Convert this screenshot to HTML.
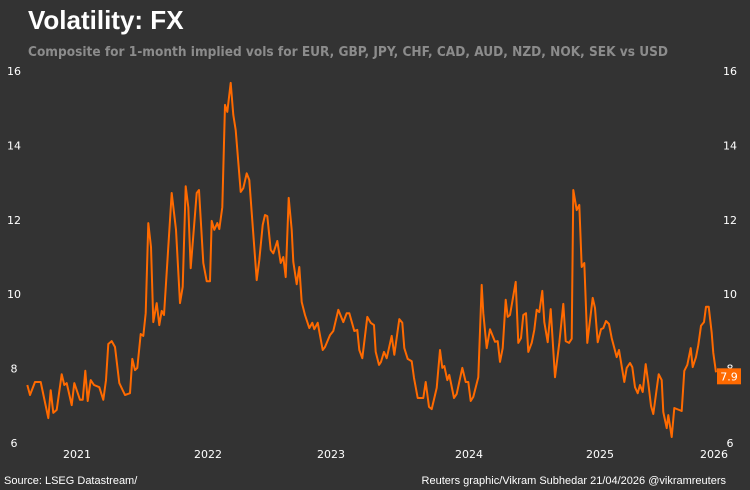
<!DOCTYPE html>
<html><head><meta charset="utf-8">
<style>
body{margin:0;width:750px;height:490px;background:#333333;overflow:hidden;font-family:"Liberation Sans",sans-serif}
svg{position:absolute;left:0;top:0}
</style></head>
<body>
<svg id="chart" width="750" height="490">
<rect width="750" height="490" fill="#333333"/>
<text x="28" y="29" fill="#ffffff" font-size="26" font-weight="bold" font-family="Liberation Sans, sans-serif">Volatility: FX</text>
<text x="28" y="56" fill="#8c8c8c" font-size="13.5" font-weight="bold" font-family="DejaVu Sans, sans-serif" textLength="640" lengthAdjust="spacingAndGlyphs">Composite for 1-month implied vols for EUR, GBP, JPY, CHF, CAD, AUD, NZD, NOK, SEK vs USD</text>
<g id="axes"></g>
<path id="line" fill="none" stroke="#ff6a00" stroke-width="2" stroke-linejoin="round"/>
<g id="tag"></g>
<text x="4" y="484" fill="#ffffff" font-size="11" font-family="Liberation Sans, sans-serif">Source: LSEG Datastream/</text>
<text x="726" y="484" fill="#ffffff" font-size="11" text-anchor="end" font-family="Liberation Sans, sans-serif">Reuters graphic/Vikram Subhedar 21/04/2026  @vikramreuters</text>
</svg>
<script>
const yTicks=[6,8,10,12,14,16];
const yearLabels=["2021","2022","2023","2024","2025","2026"];
const yearPos=[50,181,304,442,573,687];
const timePos=[0.3,3,8,13.7,21.3,23.7,26.3,29.7,34.7,37.3,39.7,44.7,47.3,53,55.7,58.3,60.7,63.7,67,72.3,
76.3,79,81.3,84.7,88,92.3,98,103,105.3,108,110.3,113.7,116.3,118.7,121.3,124,126.3,129.7,132.3,134.7,
137,144.7,149,153,155.7,158.7,161.3,163.7,169.7,172,176.3,179.7,183,184.7,187.3,190.3,192.3,195.3,198,200.3,
203.7,206.3,208.7,213.7,216.3,219.7,222.3,229.7,232.3,235.7,238,240.3,243.7,246.3,250.3,253.7,256.3,258.7,261.7,264.7,
266.3,269.7,272.3,274.7,278,282.3,285.3,287.3,290.7,295.7,298,303,306.3,311.3,316.3,319.7,322.3,327.3,330.3,332.3,
335.3,340.3,343.7,347,348.7,352,354,357,359.7,364.7,367.3,372.3,375.3,377.3,380.7,384.7,387,390.7,396.3,398.7,
402,404.7,409.7,413,415.3,417.3,420.3,422.3,427,429.7,435.3,438.7,441.3,443.7,446.3,451.3,454.7,456.3,459.7,463,
468,470.7,473,475.7,478.7,480.7,483,488.7,491.3,494,496.3,499,501.3,504.7,507.3,509.7,512.3,515.3,517.3,520.7,
523.7,528,532.3,536.3,538.7,542,544.7,546.3,549.7,552.3,554.7,557.3,560.3,565.7,568,570.7,574,576.3,579,582,
584.7,589.7,592,597.3,599.7,603,605.3,608,610.7,613,615.7,618.7,621.3,624,626.3,631.7,634.7,636.3,639.7,641.3,
644.7,647.3,654.7,657.3,660.3,663.7,665.7,669,671.3,674,677,679,681.7,684.7,686.3,689];
const values=[7.56,7.29,7.64,7.64,6.67,7.42,6.81,6.89,7.85,7.56,7.61,7.02,7.61,7.16,7.16,7.94,7.13,7.69,7.56,7.5,
7.16,7.69,8.66,8.74,8.58,7.61,7.29,7.34,8.26,7.96,8.02,8.93,8.88,9.49,11.91,11.27,9.25,9.76,9.17,9.55,
9.44,12.72,11.73,9.76,10.2,12.9,12.34,10.7,12.72,12.8,10.84,10.35,10.35,11.97,11.73,11.91,11.75,12.34,15.09,14.9,
15.68,14.82,14.41,12.75,12.85,13.25,13.07,10.38,10.92,11.86,12.13,12.1,11.19,11.1,11.43,10.84,11.0,10.46,12.59,11.73,
10.87,10.27,10.73,9.79,9.44,9.09,9.23,9.06,9.23,8.5,8.58,8.9,9.01,9.58,9.25,9.49,9.49,9.01,9.04,8.5,
8.28,9.39,9.23,9.17,8.45,8.1,8.18,8.45,8.28,8.88,8.37,9.33,9.23,8.55,8.26,8.2,7.75,7.21,7.21,7.64,
6.97,6.91,7.48,8.5,8.02,8.07,7.69,7.83,7.21,7.32,8.02,7.64,7.64,7.13,7.24,7.77,10.25,9.49,8.55,9.06,
8.72,8.74,8.18,8.55,9.85,9.39,9.44,10.33,8.69,8.82,9.44,9.49,8.45,8.69,9.04,9.58,9.52,10.09,9.25,8.71,
9.6,7.77,8.69,9.74,8.74,8.69,8.8,12.8,12.26,12.4,10.73,10.84,8.69,9.9,9.63,8.71,9.06,9.09,9.28,9.2,
8.82,8.31,8.5,7.64,8.02,8.15,8.04,7.5,7.34,7.56,7.37,8.12,7.61,7.0,6.78,7.85,7.69,6.83,6.4,6.75,
6.16,6.94,6.86,7.94,8.1,8.55,8.04,8.31,8.63,9.15,9.25,9.66,9.66,8.96,8.42,7.9];
const lastLabel="7.9";

const NS="http://www.w3.org/2000/svg";
const x0=27, yTop=71, yBot=443, vMin=6, vMax=16;
function xScale(t){return x0+t;}
function yScale(v){return yBot-(v-vMin)/(vMax-vMin)*(yBot-yTop);}
const axes=document.getElementById('axes');
function txt(x,y,s,anchor,size){const t=document.createElementNS(NS,'text');t.setAttribute('x',x);t.setAttribute('y',y);t.setAttribute('fill','#ffffff');t.setAttribute('font-size',size);t.setAttribute('text-anchor',anchor);t.setAttribute('font-family','DejaVu Sans, sans-serif');t.textContent=s;axes.appendChild(t);return t;}
yTicks.forEach(v=>{
  const l=txt(14,yScale(v)+4,String(v),'middle',11);
  
  
  const r=txt(730,yScale(v)+4,String(v),'middle',11);
  
  
});
yearLabels.forEach((s,i)=>{
  const l=txt(xScale(yearPos[i]),458,s,'middle',11);
  
  
});
const n=Math.min(values.length,timePos.length);
let d='';
for(let i=0;i<n;i++){d+=(i?'L':'M')+xScale(timePos[i]).toFixed(1)+','+yScale(values[i]).toFixed(1);}
document.getElementById('line').setAttribute('d',d);
const tag=document.getElementById('tag');
const lv=values[n-1];
const ty=yScale(lv)+4;
const r=document.createElementNS(NS,'rect');
r.setAttribute('x',717);r.setAttribute('y',ty-8);r.setAttribute('width',24);r.setAttribute('height',16);r.setAttribute('fill','#ff6a00');


tag.appendChild(r);
const tt=document.createElementNS(NS,'text');
tt.setAttribute('x',729);tt.setAttribute('y',ty+4);tt.setAttribute('fill','#ffffff');tt.setAttribute('font-size',11);tt.setAttribute('text-anchor','middle');tt.setAttribute('font-family','DejaVu Sans, sans-serif');
tt.textContent=lastLabel;


tag.appendChild(tt);
</script>
</body></html>
